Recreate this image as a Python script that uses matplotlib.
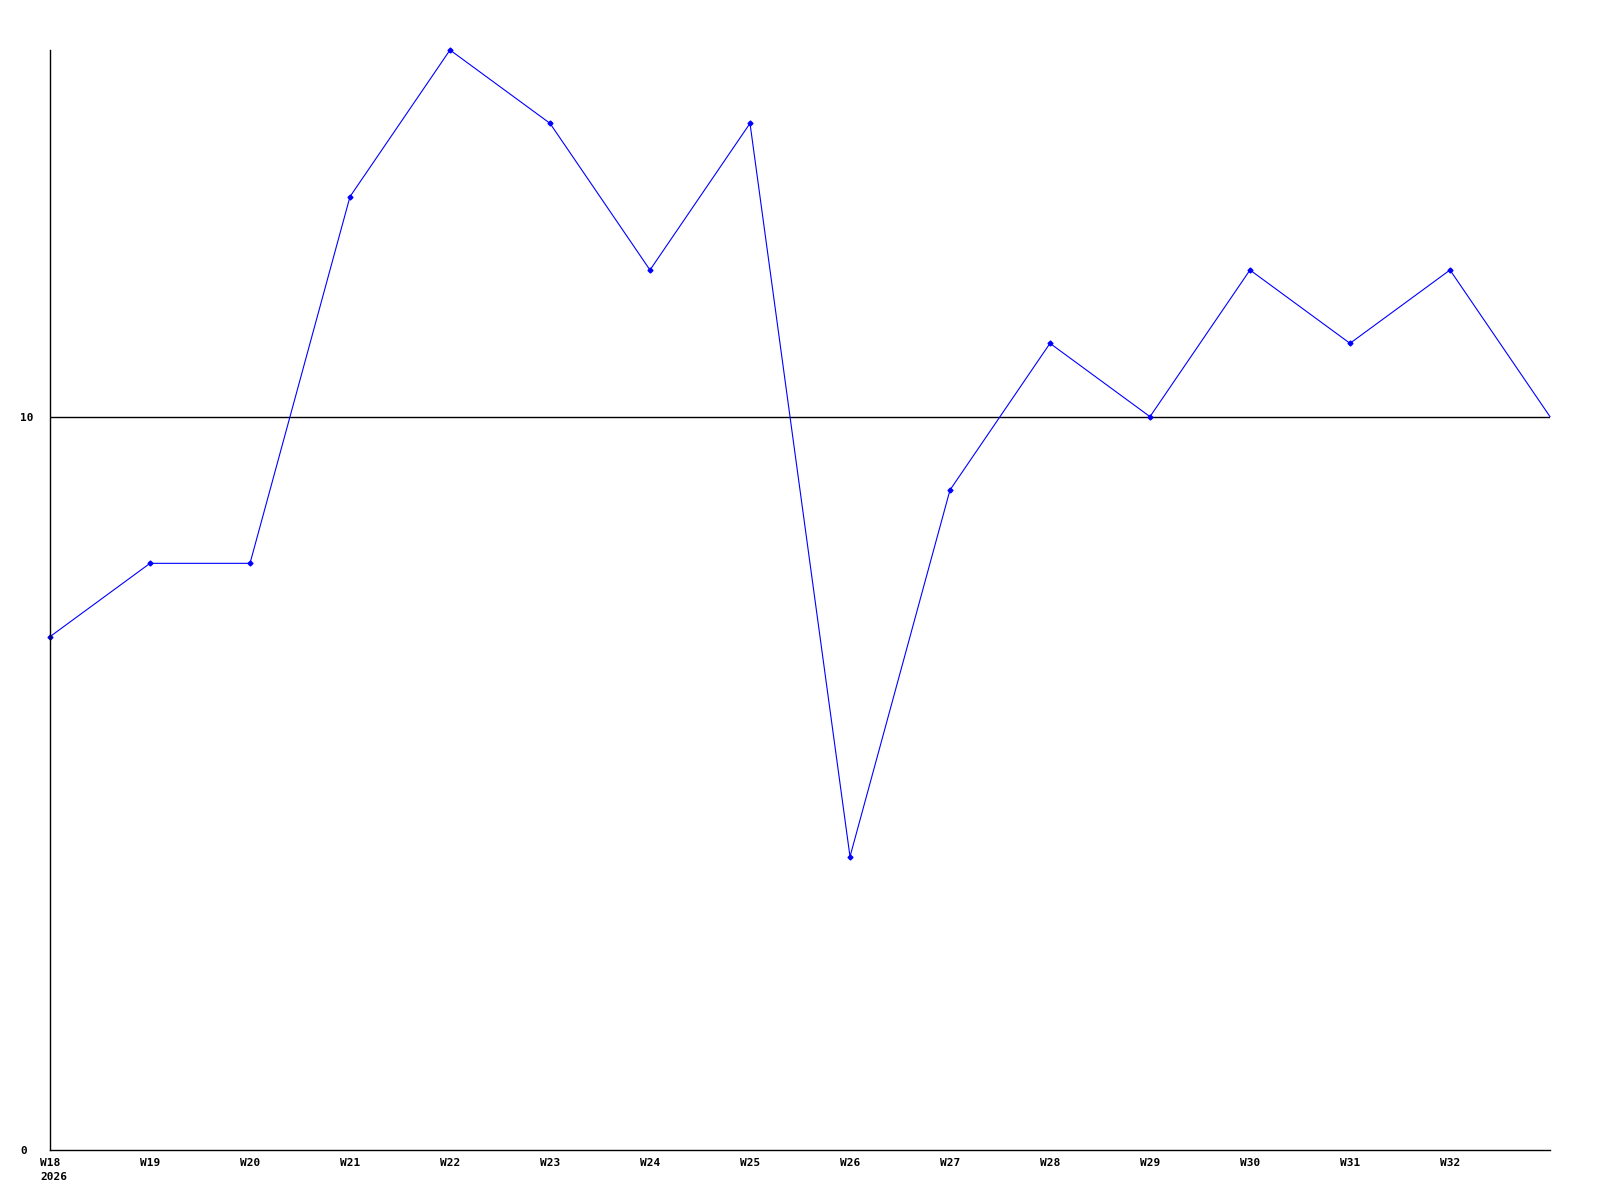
import matplotlib
matplotlib.use("Agg")
import matplotlib.pyplot as plt

weeks = ["W18", "W19", "W20", "W21", "W22", "W23", "W24", "W25",
         "W26", "W27", "W28", "W29", "W30", "W31", "W32", "W33"]
year_label = "2026"
values = [7, 8, 8, 13, 15, 14, 12, 14, 4, 9, 11, 10, 12, 11, 12, 10]
y_ticks = [0, 10]

font = dict(fontfamily="DejaVu Sans Mono", fontweight="bold", fontsize=8)

fig = plt.figure(figsize=(16, 12), dpi=100)
ax = fig.add_axes([50/1600, 1 - 1150/1200, 1500/1600, 1100/1200])

x = list(range(len(values)))
ax.plot(x, values, color="#0000ff", linewidth=0.8, marker="D", markersize=2.5,
        markevery=list(range(len(values) - 1)), clip_on=False)
ax.axhline(10, color="black", linewidth=1.0, zorder=1)

ax.set_xlim(0, len(values) - 1)
ax.set_ylim(0, 15)
ax.set_xticks(x[:-1])
ax.set_xticklabels(weeks[:-1], **font)
ax.set_yticks(y_ticks)
ax.set_yticklabels([str(v) for v in y_ticks], ha="left", **font)
ax.tick_params(axis="both", length=0)
ax.tick_params(axis="x", pad=6)
ax.tick_params(axis="y", pad=21.6)
ax.annotate(year_label, xy=(0, 0), xycoords=("data", "axes fraction"),
            xytext=(-10, -22), textcoords="offset pixels",
            ha="left", va="top", **font)
ax.spines["top"].set_visible(False)
ax.spines["right"].set_visible(False)
ax.spines["left"].set_linewidth(1.0)
ax.spines["bottom"].set_linewidth(1.0)

fig.savefig("out.png", dpi=100)
